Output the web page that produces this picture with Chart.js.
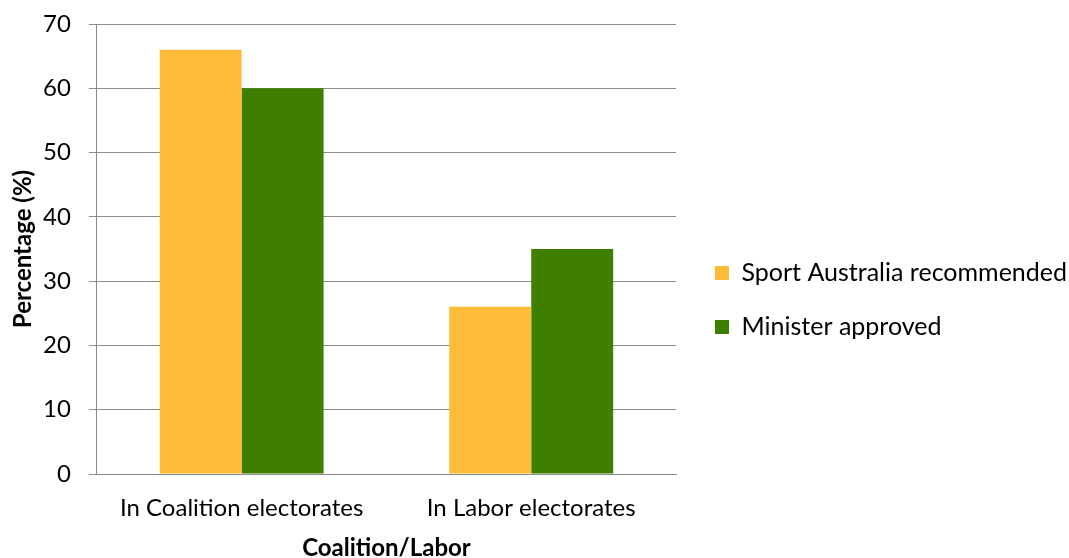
<!DOCTYPE html>
<html>
<head>
<meta charset="utf-8">
<script src="https://cdn.jsdelivr.net/npm/chart.js@4"></script>
<style>
  html, body { margin: 0; padding: 0; background: #fff; }
  #wrap { width: 1069px; height: 558px; }
</style>
</head>
<body>
<div id="wrap"><canvas id="barChart"></canvas></div>
<script>
var categories = ["In Coalition electorates", "In Labor electorates"];
var sportAustralia = [66, 26];
var ministerApproved = [60, 35];
var yTicks = [0, 10, 20, 30, 40, 50, 60, 70];

var fontFamily = "Lato, 'Open Sans', sans-serif";
var gridColor = "#8c8c8c";

// push the legend a bit away from the plot area, like the original
var legendGap = {
    id: "legendGap",
    afterLayout: function(chart) {
        if (chart.legend) {
            chart.legend.left += 10;
            chart.legend.right += 10;
        }
    }
};

var ctx = document.getElementById("barChart");
var barChart = new Chart(ctx, {
    type: "bar",
    data: {
        labels: categories,
        datasets: [
            {
                label: "Sport Australia recommended",
                backgroundColor: "#fdbb38",
                data: sportAustralia
            },
            {
                label: "Minister approved",
                backgroundColor: "#3f7f00",
                data: ministerApproved
            }
        ]
    },
    plugins: [legendGap],
    options: {
        responsive: true,
        maintainAspectRatio: false,
        animation: false,
        layout: { padding: { top: 24, right: 2, bottom: -2, left: 11 } },
        datasets: {
            bar: { barPercentage: 1, categoryPercentage: 0.566 }
        },
        plugins: {
            legend: {
                position: "right",
                maxWidth: 500,
                title: { display: true, text: "", font: { size: 10 }, padding: 2 },
                labels: {
                    color: "#000",
                    font: { family: fontFamily, size: 25 },
                    boxWidth: 14,
                    boxHeight: 14,
                    padding: 29
                }
            },
            tooltip: { enabled: false }
        },
        scales: {
            x: {
                grid: { display: false, drawTicks: false },
                border: { display: true, color: gridColor },
                ticks: { color: "#000", font: { family: fontFamily, size: 24, lineHeight: 1 }, padding: 22 },
                title: {
                    display: true,
                    text: "Coalition/Labor",
                    color: "#000",
                    font: { family: fontFamily, size: 24, weight: "bold", lineHeight: 1 },
                    padding: { top: -6, bottom: 0 }
                }
            },
            y: {
                min: 0,
                max: 70,
                afterBuildTicks: function(axis) {
                    axis.ticks = yTicks.map(function(v) { return { value: v }; });
                },
                afterFit: function(axis) {
                    axis.paddingTop = 12;
                },
                grid: { color: gridColor, tickLength: 8 },
                border: { display: true, color: gridColor },
                ticks: { color: "#000", font: { family: fontFamily, size: 24 }, padding: 18 },
                title: {
                    display: true,
                    text: "Percentage (%)",
                    color: "#000",
                    font: { family: fontFamily, size: 24, weight: "bold", lineHeight: 1 },
                    padding: { top: 0, bottom: -10 }
                }
            }
        }
    }
});
</script>
</body>
</html>
